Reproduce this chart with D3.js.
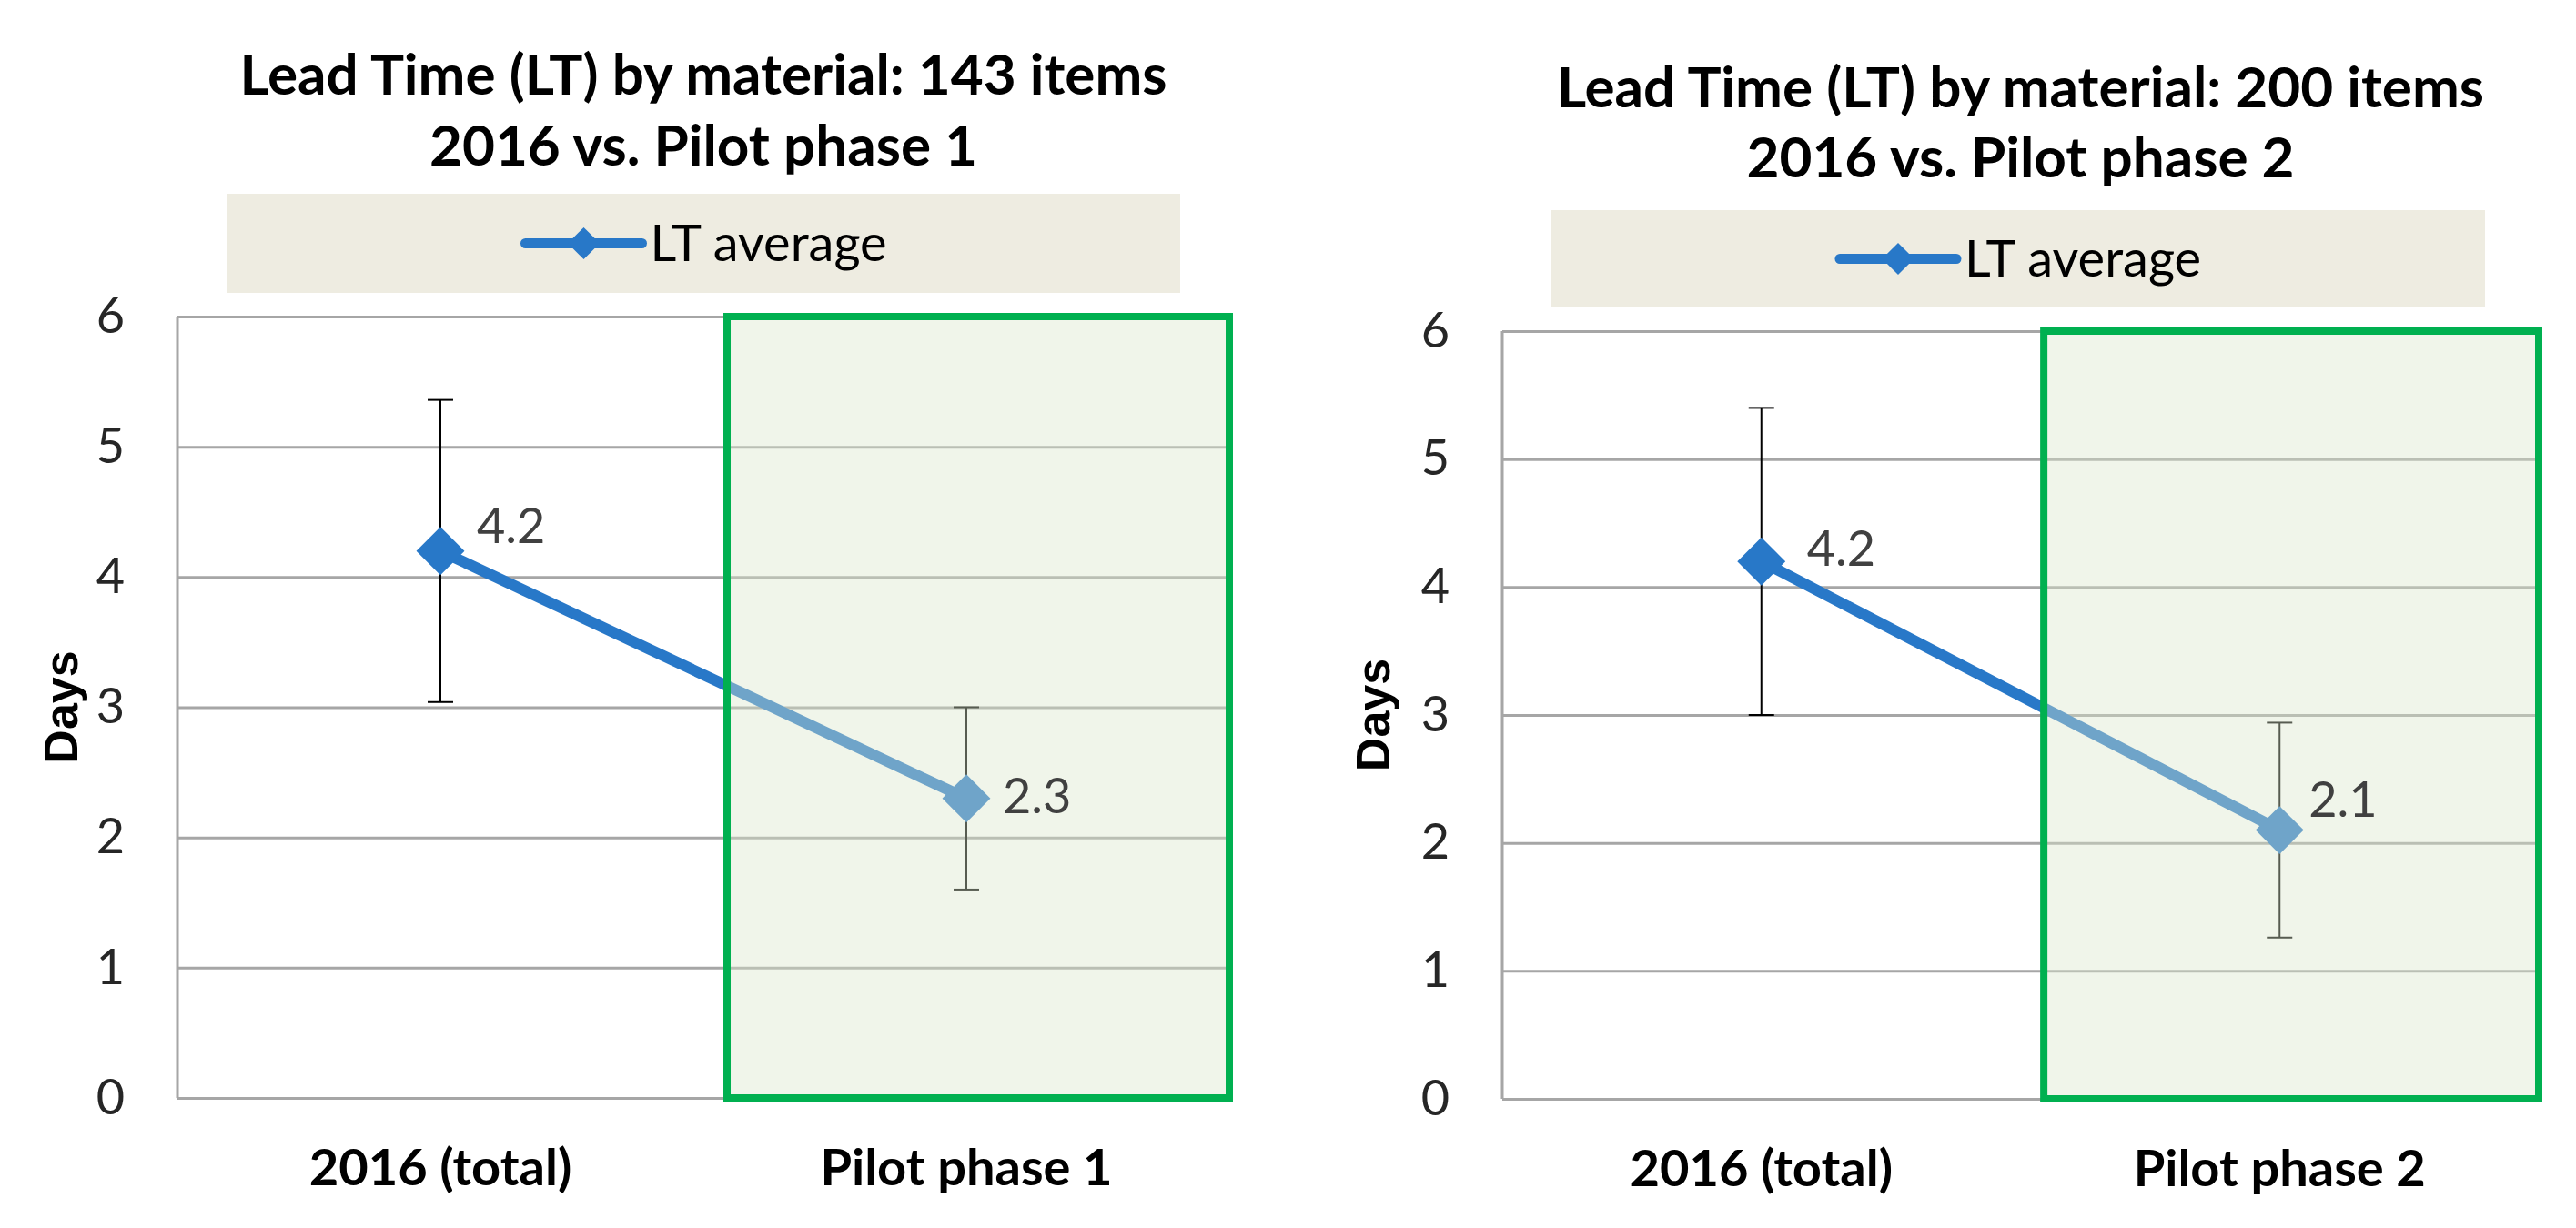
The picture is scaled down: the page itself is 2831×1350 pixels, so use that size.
<!DOCTYPE html>
<html>
<head>
<meta charset="utf-8">
<script src="https://cdn.jsdelivr.net/npm/d3@7"></script>
<style>
  body { margin: 0; background: #fff; }
  svg { display: block; }
</style>
</head>
<body>
<svg id="chart" width="2831" height="1350"></svg>
<script>
// data
const yTicks = [0, 1, 2, 3, 4, 5, 6];
const seriesName = "LT average";
const yLabel = "Days";

const titles1 = ["Lead Time (LT) by material: 143 items", "2016 vs. Pilot phase 1"];
const categories1 = ["2016 (total)", "Pilot phase 1"];
const ltAverage1 = [4.2, 2.3];
const ltError1 = [1.16, 0.7];

const titles2 = ["Lead Time (LT) by material: 200 items", "2016 vs. Pilot phase 2"];
const categories2 = ["2016 (total)", "Pilot phase 2"];
const ltAverage2 = [4.2, 2.1];
const ltError2 = [1.2, 0.84];

const FONT = "Lato, 'Open Sans', sans-serif";
const BLUE = "#2878c8";

// panel layout (pixels)
const panels = [
  { titles: titles1, cats: categories1, values: ltAverage1, errors: ltError1,
    plot: { l: 195, r: 1351, t: 348, b: 1207 },
    titleY: [104, 182],
    legend: { l: 250, r: 1297, t: 213, b: 322 },
    labelOff: [[40, -9], [40, 16]],
    daysX: 67 },
  { titles: titles2, cats: categories2, values: ltAverage2, errors: ltError2,
    plot: { l: 1651, r: 2790, t: 364, b: 1208 },
    titleY: [118, 195],
    legend: { l: 1705, r: 2731, t: 231, b: 338 },
    labelOff: [[50, 5], [32, -15]],
    daysX: 1509 }
];

const svg = d3.select("#chart");

function drawPanel(p) {
  const g = svg.append("g");
  const x = d3.scaleBand().domain(p.cats).range([p.plot.l, p.plot.r]);
  const y = d3.scaleLinear().domain([0, 6]).range([p.plot.b, p.plot.t]);
  const cx = c => x(c) + x.bandwidth() / 2;
  const mid = (p.plot.l + p.plot.r) / 2;
  const pts = p.cats.map((c, i) => ({ cat: c, v: p.values[i], e: p.errors[i] }));

  // title
  g.selectAll("text.title").data(p.titles).join("text")
    .attr("class", "title")
    .attr("x", mid)
    .attr("y", (d, i) => p.titleY[i])
    .attr("text-anchor", "middle")
    .attr("font-family", FONT)
    .attr("font-weight", 700)
    .attr("font-size", 62)
    .attr("fill", "#000")
    .text(d => d);

  // legend
  const lg = p.legend;
  const lcx = (lg.l + lg.r) / 2, lcy = (lg.t + lg.b) / 2;
  g.append("rect")
    .attr("x", lg.l).attr("y", lg.t)
    .attr("width", lg.r - lg.l).attr("height", lg.b - lg.t)
    .attr("fill", "#eeece1");
  g.append("line")
    .attr("x1", lcx - 196).attr("x2", lcx - 68)
    .attr("y1", lcy).attr("y2", lcy)
    .attr("stroke", BLUE).attr("stroke-width", 11).attr("stroke-linecap", "round");
  g.append("path")
    .attr("d", d3.symbol().type(d3.symbolSquare).size(620)())
    .attr("transform", `translate(${lcx - 132},${lcy}) rotate(45)`)
    .attr("fill", BLUE);
  g.append("text")
    .attr("x", lcx - 59).attr("y", lcy + 19)
    .attr("font-family", FONT).attr("font-size", 56)
    .attr("fill", "#000")
    .text(seriesName);

  // y axis with gridlines
  const yAxis = d3.axisLeft(y)
    .tickValues(yTicks)
    .tickSize(-(p.plot.r - p.plot.l))
    .tickPadding(58)
    .tickFormat(d3.format("d"));
  const ag = g.append("g")
    .attr("transform", `translate(${p.plot.l},0)`)
    .call(yAxis)
    .attr("font-family", FONT)
    .attr("font-size", 54);
  ag.select(".domain").remove();
  ag.selectAll(".tick line").attr("stroke", "#a6a6a6").attr("stroke-width", 3);
  ag.selectAll(".tick text").attr("fill", "#262626");

  g.append("line")
    .attr("x1", p.plot.l).attr("x2", p.plot.l)
    .attr("y1", p.plot.t).attr("y2", p.plot.b)
    .attr("stroke", "#a6a6a6").attr("stroke-width", 3);

  // axis title
  g.append("text")
    .attr("transform", `translate(${p.daysX},${(p.plot.t + p.plot.b) / 2}) rotate(-90)`)
    .attr("text-anchor", "middle")
    .attr("dy", "0.35em")
    .attr("font-family", "'Liberation Sans', Arial, sans-serif")
    .attr("font-weight", 700)
    .attr("font-size", 52)
    .text(yLabel);

  // category labels
  g.selectAll("text.cat").data(p.cats).join("text")
    .attr("class", "cat")
    .attr("x", d => cx(d))
    .attr("y", p.plot.b + 96)
    .attr("text-anchor", "middle")
    .attr("font-family", FONT)
    .attr("font-weight", 700)
    .attr("font-size", 56)
    .text(d => d);

  // error bars
  const eb = g.selectAll("g.err").data(pts).join("g").attr("class", "err")
    .attr("stroke", "#000").attr("stroke-width", 2);
  eb.append("line")
    .attr("x1", d => cx(d.cat)).attr("x2", d => cx(d.cat))
    .attr("y1", d => y(d.v + d.e)).attr("y2", d => y(d.v - d.e));
  eb.selectAll("line.cap").data(d => [[d.cat, d.v + d.e], [d.cat, d.v - d.e]]).join("line")
    .attr("class", "cap")
    .attr("x1", d => cx(d[0]) - 14).attr("x2", d => cx(d[0]) + 14)
    .attr("y1", d => y(d[1])).attr("y2", d => y(d[1]));

  // series line + markers
  const line = d3.line().x(d => cx(d.cat)).y(d => y(d.v));
  g.append("path")
    .datum(pts)
    .attr("d", line)
    .attr("fill", "none")
    .attr("stroke", BLUE)
    .attr("stroke-width", 12);
  g.selectAll("path.mark").data(pts).join("path")
    .attr("class", "mark")
    .attr("d", d3.symbol().type(d3.symbolSquare).size(1400)())
    .attr("transform", d => `translate(${cx(d.cat)},${y(d.v)}) rotate(45)`)
    .attr("fill", BLUE);

  // highlighted pilot phase: translucent green box over the plot
  const bx = x(p.cats[1]) + x.bandwidth() * 0.045;
  g.append("rect")
    .attr("x", bx).attr("y", p.plot.t)
    .attr("width", p.plot.r - bx).attr("height", p.plot.b - p.plot.t)
    .attr("fill", "rgb(218,230,203)").attr("fill-opacity", 0.4)
    .attr("stroke", "#00b050").attr("stroke-width", 8);

  // data labels
  g.selectAll("text.val").data(pts).join("text")
    .attr("class", "val")
    .attr("x", (d, i) => cx(d.cat) + p.labelOff[i][0])
    .attr("y", (d, i) => y(d.v) + p.labelOff[i][1])
    .attr("font-family", FONT)
    .attr("font-size", 54)
    .attr("fill", "#404040")
    .text(d => d3.format(".1f")(d.v));
}

panels.forEach(drawPanel);
</script>
</body>
</html>
